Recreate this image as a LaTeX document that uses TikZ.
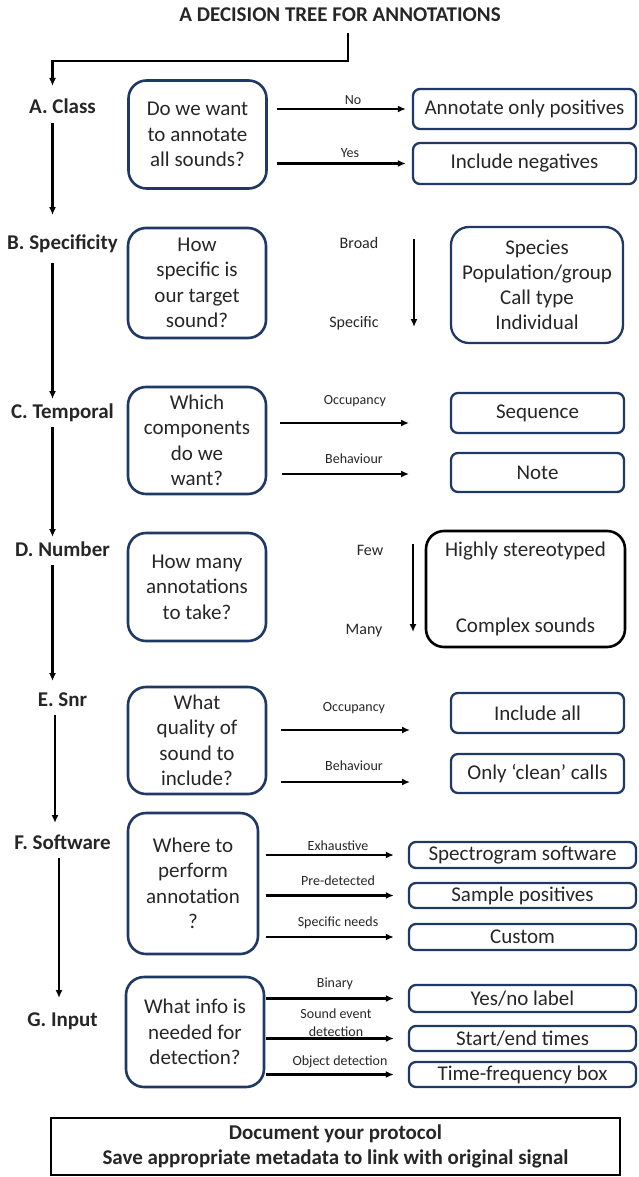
\documentclass[tikz,border=0pt]{standalone}
\usepackage{fontspec}
\setmainfont{Carlito}
\usetikzlibrary{shapes, arrows.meta}

\definecolor{boxblue}{RGB}{32,56,100}
\definecolor{inkgray}{RGB}{38,38,38}

\tikzstyle{title} =
        [
                inner sep = 0pt,
                text height = 14pt,
                text depth = 4pt,
                text = inkgray,
                font = \bfseries\fontsize{21}{25}\selectfont
        ]
\tikzstyle{stage} =
        [
                inner sep = 0pt,
                outer sep = 5pt,
                text height = 14pt,
                text depth = 4pt,
                text = inkgray,
                font = \bfseries\fontsize{21}{25}\selectfont
        ]
\tikzstyle{question} =
        [
                rectangle,
                draw = boxblue,
                line width = 2.6pt,
                rounded corners = 18pt,
                minimum width = 138pt,
                minimum height = 108pt,
                inner sep = 0pt,
                align = center,
                text = inkgray,
                font = \fontsize{21}{25.5}\selectfont
        ]
\tikzstyle{answer} =
        [
                rectangle,
                draw = boxblue,
                line width = 2.3pt,
                rounded corners = 7pt,
                minimum width = 173pt,
                minimum height = 40pt,
                inner sep = 0pt,
                align = center,
                text = inkgray,
                font = \fontsize{21}{25}\selectfont
        ]
\tikzstyle{tag} =
        [
                inner sep = 0pt,
                align = center,
                text = inkgray,
                font = \fontsize{14}{18}\selectfont
        ]
\tikzstyle{rangetag} =
        [
                inner sep = 0pt,
                text = inkgray,
                font = \fontsize{16}{18}\selectfont
        ]
\tikzstyle{protocol} =
        [
                rectangle,
                draw,
                line width = 1.8pt,
                minimum width = 569pt,
                minimum height = 57pt,
                inner sep = 0pt,
                align = center,
                text = inkgray,
                font = \bfseries\fontsize{21}{25}\selectfont
        ]
\tikzstyle{line} =
        [
                draw,
                line width = 2.4pt,
                -{Latex[length = 8pt, width = 7pt]}
        ]

\begin{document}
\begin{tikzpicture}[x = 1pt, y = -1pt, auto]
        \useasboundingbox (0,0) rectangle (638,1177);

        \node [title] (title) at (340,17) {A DECISION TREE FOR ANNOTATIONS};

        \node [stage] (cls) at (62.5,109) {A. Class};
        \node [stage] (spec) at (62.5,244) {B. Specificity};
        \node [stage] (temp) at (62.5,413) {C. Temporal};
        \node [stage] (num) at (62.5,551) {D. Number};
        \node [stage] (snr) at (62.5,701) {E. Snr};
        \node [stage] (soft) at (62.5,844) {F. Software};
        \node [stage] (inp) at (62.5,1021) {G. Input};

        % A. class
        \node [question] (qA) at (197.5,134.5) {Do we want\\to annotate\\all sounds?};
        \node [answer, minimum width = 223pt] (aPos) at (524.5,109) {Annotate only positives};
        \node [answer, minimum width = 223pt, minimum height = 41pt] (aNeg) at (524.5,163.5) {Include negatives};
        \node [tag] (tNo) at (353,100) {No};
        \node [tag] (tYes) at (350,153) {Yes};

        % B. specificity
        \node [question, minimum height = 110pt] (qB) at (197,283) {How\\specific is\\our target\\sound?};
        \node [answer, rounded corners = 18pt, minimum width = 172pt, minimum height = 116pt] (aSpec) at (537,285) {Species\\Population/group\\Call type\\Individual};
        \node [rangetag] (tBroad) at (359,243) {Broad};
        \node [rangetag] (tSpecific) at (354,323) {Specific};
        \coordinate (bTop) at (414,239);
        \coordinate (bBot) at (414,327);

        % C. temporal
        \node [question, minimum height = 107pt] (qC) at (197,440.5) {Which\\components\\do we\\want?};
        \node [answer] (aSeq) at (537.5,413) {Sequence};
        \node [answer, minimum height = 39pt] (aNote) at (537.5,472.5) {Note};
        \node [tag] (tOccC) at (355,401) {Occupancy};
        \node [tag] (tBehC) at (354,459) {Behaviour};
        \coordinate (cOcc) at (409,423);
        \coordinate (cBeh) at (409,474);

        % D. number
        \node [question] (qD) at (197,587) {How many\\annotations\\to take?};
        \node [answer, draw = black, line width = 2.6pt, rounded corners = 18pt, minimum width = 199pt, minimum height = 116pt] (aNum) at (525.5,589) {Highly stereotyped\\[51pt]Complex sounds};
        \node [rangetag] (tFew) at (370,550) {Few};
        \node [rangetag] (tMany) at (364,631) {Many};
        \coordinate (dTop) at (413,544);
        \coordinate (dBot) at (413,632);

        % E. snr
        \node [question, minimum height = 107pt] (qE) at (197,740.5) {What\\quality of\\sound to\\include?};
        \node [answer] (aAll) at (537.5,713) {Include all};
        \node [answer, minimum height = 39pt] (aClean) at (537.5,773.5) {Only ‘clean’ calls};
        \node [tag] (tOccE) at (354,708) {Occupancy};
        \node [tag] (tBehE) at (354,766) {Behaviour};
        \coordinate (eOcc) at (410,730);
        \coordinate (eBeh) at (410,782);

        % F. software
        \node [question, minimum width = 130pt, minimum height = 141pt] (qF) at (193,883.5) {Where to\\perform\\annotation\\?};
        \node [answer, minimum width = 227pt, minimum height = 26pt] (aSoft) at (522.5,855) {Spectrogram software};
        \node [answer, minimum width = 227pt, minimum height = 25pt] (aSamp) at (522.5,895.5) {Sample positives};
        \node [answer, minimum width = 227pt, minimum height = 26pt] (aCust) at (522.5,937) {Custom};
        \node [tag] (tExh) at (338,846) {Exhaustive};
        \node [tag] (tPre) at (338,881) {Pre-detected};
        \node [tag] (tNeeds) at (338,923) {Specific needs};

        % G. input
        \node [question, minimum height = 110pt] (qG) at (195,1032) {What info is\\needed for\\detection?};
        \node [answer, minimum width = 227pt, minimum height = 27pt] (aYes) at (522.5,998.5) {Yes/no label};
        \node [answer, minimum width = 227pt, minimum height = 25pt] (aStart) at (522.5,1038.5) {Start/end times};
        \node [answer, minimum width = 227pt, minimum height = 25pt] (aBox) at (522.5,1074.5) {Time-frequency box};
        \node [tag] (tBin) at (335,984) {Binary};
        \node [tag] (tSed) at (336,1023) {Sound event\\detection};
        \node [tag] (tObj) at (340,1062) {Object detection};

        \node [protocol] (note) at (335.5,1146.5) {Document your protocol\\Save appropriate metadata to link with original signal};

        % main stem
        \path [line, shorten <= 7pt, shorten >= 9pt] ([xshift=8pt]title.south) -- ++(0,35) -| ([xshift=-10pt]cls.north);
        \path [line, shorten >= 15pt] ([xshift=-10pt]cls.south) -- ([xshift=-10pt]cls.south |- spec.north);
        \path [line, shorten <= 5pt] ([xshift=-10pt]spec.south) -- ([xshift=-10pt]spec.south |- temp.north);
        \path [line] ([xshift=-10pt]temp.south) -- ([xshift=-10pt]temp.south |- num.north);
        \path [line, shorten >= 6pt] ([xshift=-10pt]num.south) -- ([xshift=-10pt]num.south |- snr.north);
        \path [line, shorten >= 7pt] ([xshift=-7.5pt]snr.south) -- ([xshift=-7.5pt]snr.south |- soft.north);
        \path [line, shorten >= 9pt] ([xshift=-3.5pt]soft.south) -- ([xshift=-3.5pt]soft.south |- inp.north);

        % branches
        \path [line, shorten <= 9pt, shorten >= 6pt] (qA.east |- aPos.west) -- (aPos.west);
        \path [line, shorten <= 9pt, shorten >= 6pt] (qA.east |- aNeg.west) -- (aNeg.west);
        \path [line] (bTop) -- (bBot);
        \path [line, shorten <= 13pt] (qC.east |- cOcc) -- (cOcc);
        \path [line, shorten <= 15pt] (qC.east |- cBeh) -- (cBeh);
        \path [line] (dTop) -- (dBot);
        \path [line, shorten <= 14pt] (qE.east |- eOcc) -- (eOcc);
        \path [line, shorten <= 14pt] (qE.east |- eBeh) -- (eBeh);
        \path [line, shorten <= 7pt, shorten >= 14pt] (qF.east |- aSoft.west) -- (aSoft.west);
        \path [line, shorten <= 7pt, shorten >= 14pt] (qF.east |- aSamp.west) -- (aSamp.west);
        \path [line, shorten <= 7pt, shorten >= 14pt] (qF.east |- aCust.west) -- (aCust.west);
        \path [line, shorten <= 1pt, shorten >= 14pt] (qG.east |- aYes.west) -- (aYes.west);
        \path [line, shorten <= 1pt, shorten >= 14pt] (qG.east |- aStart.west) -- (aStart.west);
        \path [line, shorten <= 1pt, shorten >= 14pt] (qG.east |- aBox.west) -- (aBox.west);
\end{tikzpicture}
\end{document}
